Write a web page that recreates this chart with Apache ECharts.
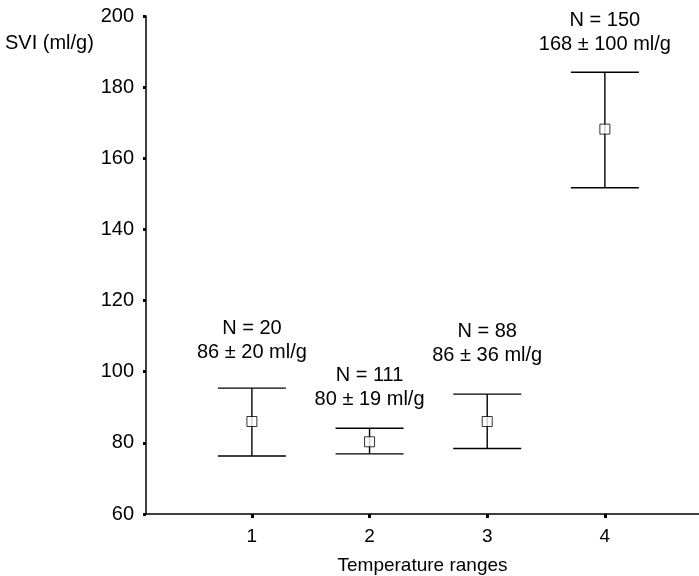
<!DOCTYPE html>
<html>
<head>
<meta charset="utf-8">
<script src="https://cdn.jsdelivr.net/npm/echarts@6/dist/echarts.min.js"></script>
<style>html,body{margin:0;padding:0;background:#fff;}#c{width:699px;height:576px;}</style>
</head>
<body>
<div id="c"></div>
<script>
var categories = [1, 2, 3, 4];
var means = [86, 80.3, 86, 168.2];
var upperVals = [95.4, 84.1, 93.7, 184.2];
var lowerVals = [76.3, 76.9, 78.4, 151.7];
var nLabels = ['N = 20', 'N = 111', 'N = 88', 'N = 150'];
var statLabels = ['86 \u00b1 20 ml/g', '80 \u00b1 19 ml/g', '86 \u00b1 36 ml/g', '168 \u00b1 100 ml/g'];
// annotation anchor (SVI value at which the second text line sits)
var labelAnchor = [105.3, 92.2, 104.6, 192.1];
var yTicks = [60, 80, 100, 120, 140, 160, 180, 200];

var FONT = '"Liberation Sans", Arial, sans-serif';
var FS = 20;
var chart = echarts.init(document.getElementById('c'));

var errData = categories.map(function (c, i) { return [c, lowerVals[i], upperVals[i], i, labelAnchor[i]]; });
var meanData = categories.map(function (c, i) { return [c, means[i]]; });

chart.setOption({
  animation: false,
  backgroundColor: '#fff',
  grid: { left: 146, right: 0, top: 16, bottom: 62, outerBoundsMode: 'none', containLabel: false },
  xAxis: {
    type: 'value', min: 0.1, max: 4.8,
    name: 'Temperature ranges', nameLocation: 'middle', nameGap: 42,
    nameTextStyle: { fontFamily: FONT, fontSize: FS - 1, color: '#000' },
    axisLine: { show: true, lineStyle: { color: '#000', width: 1.5 } },
    axisTick: { show: true, length: 4, lineStyle: { color: '#000', width: 3 }, customValues: categories },
    axisLabel: { fontFamily: FONT, fontSize: FS - 1, color: '#000', margin: 13, customValues: categories },
    splitLine: { show: false }
  },
  yAxis: {
    type: 'value', min: yTicks[0], max: yTicks[yTicks.length - 1], interval: 20,
    axisLine: { show: true, lineStyle: { color: '#000', width: 1.5 } },
    axisTick: { show: true, length: 3, lineStyle: { color: '#000', width: 3 } },
    axisLabel: { fontFamily: FONT, fontSize: FS, color: '#000', margin: 12 },
    splitLine: { show: false }
  },
  graphic: [{
    type: 'text', left: 5, top: 33,
    style: { text: 'SVI (ml/g)', font: FS + 'px ' + FONT, fill: '#000' }
  }],
  series: [{
    type: 'custom',
    data: errData,
    renderItem: function (params, api) {
      var x = api.value(0);
      var lo = api.coord([x, api.value(1)]);
      var hi = api.coord([x, api.value(2)]);
      var idx = api.value(3);
      var lab = api.coord([x, api.value(4)]);
      var hw = 34;
      var ls = { stroke: '#000', lineWidth: 1.4 };
      var ts = { font: FS + 'px ' + FONT, fill: '#000', align: 'center', verticalAlign: 'middle' };
      return {
        type: 'group',
        children: [
          { type: 'line', shape: { x1: hi[0], y1: hi[1], x2: lo[0], y2: lo[1] }, style: ls },
          { type: 'line', shape: { x1: hi[0] - hw, y1: hi[1], x2: hi[0] + hw, y2: hi[1] }, style: ls },
          { type: 'line', shape: { x1: lo[0] - hw, y1: lo[1], x2: lo[0] + hw, y2: lo[1] }, style: ls },
          { type: 'text', x: lab[0], y: lab[1] - 24, style: Object.assign({ text: nLabels[idx] }, ts) },
          { type: 'text', x: lab[0], y: lab[1], style: Object.assign({ text: statLabels[idx] }, ts) }
        ]
      };
    },
    z: 2
  }, {
    type: 'scatter',
    data: meanData,
    symbol: 'rect',
    symbolSize: 10,
    itemStyle: { color: '#fff', borderColor: '#000', borderWidth: 1 },
    z: 3
  }]
});
</script>
</body>
</html>
